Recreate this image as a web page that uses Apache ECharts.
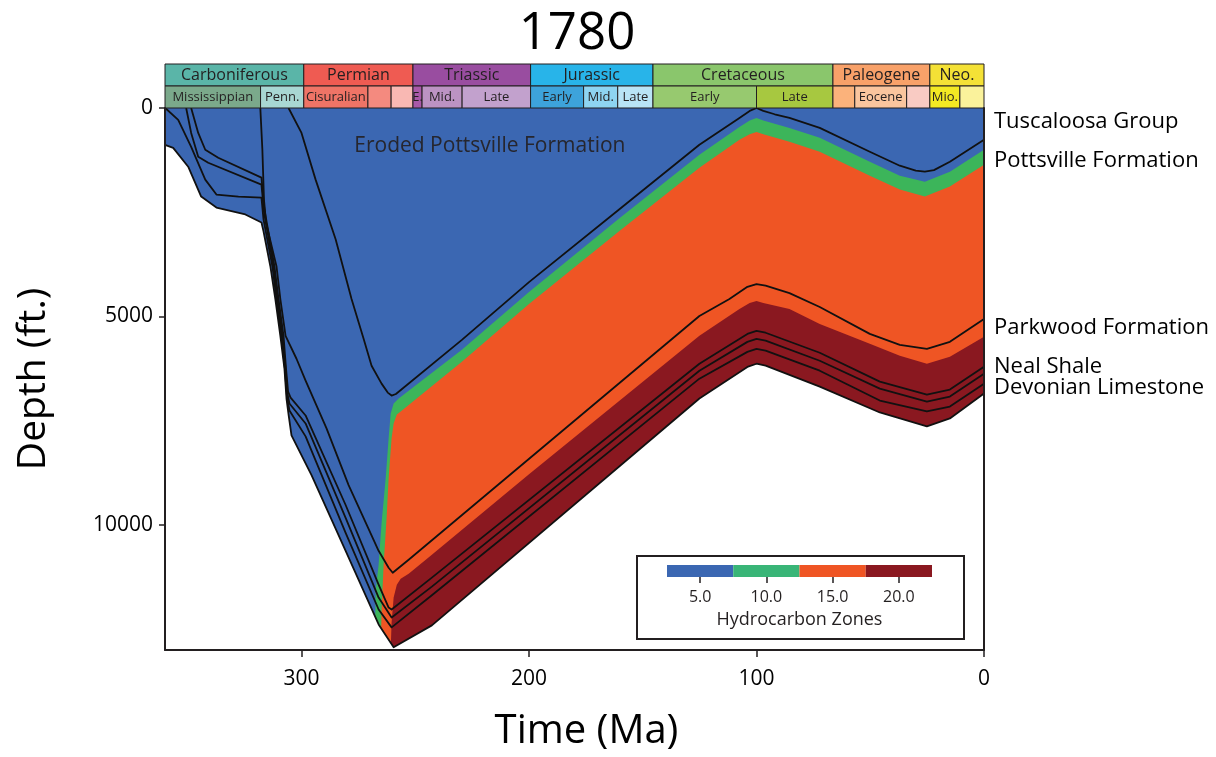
<!DOCTYPE html>
<html><head><meta charset="utf-8">
<script src="https://cdn.jsdelivr.net/npm/echarts@6/dist/echarts.min.js"></script>
<style>html,body{margin:0;padding:0;background:#fff}#c{width:1216px;height:757px}</style>
</head><body><div id="c"></div>
<script>
// ---------- data (time in Ma, depth in ft) ----------
const chartTitle = '1780';
const xTickValues = [0, 100, 200, 300];
const yTickValues = [0, 5000, 10000];

// burial curves of horizons
const tuscaloosaBase = [[305.7,0],[300,597],[293.8,1718],[285,3150],[278,4582],[272.7,5537],[269.2,6181],[264.8,6611],[262.1,6826],[260.4,6897],[258.5,6860],[229.5,5561],[200,4177],[160.4,2434],[125.1,883],[107.5,239],[103,70],[100,0],[97,70],[92,150],[85.5,239],[72.2,477],[50.2,1050],[37,1384],[30,1500],[26,1527],[22,1490],[15,1289],[0,764]];
const pottsvilleBase = [[318.1,0],[317.2,1002],[316.5,2196],[315.6,2745],[311.0,3795],[309.3,4582],[307.0,5465],[302.2,6014],[298.2,6539],[289.0,7685],[279.3,9045],[266.1,10620],[261.7,11026],[259.9,11146],[252.9,10835],[125.1,4988],[111.9,4582],[104,4290],[100,4224],[96,4260],[85.5,4439],[72.2,4773],[50.2,5418],[37,5680],[25.1,5776],[15,5608],[0,5060]];
const parkwoodBase = [[348.5,0],[345.4,597],[342.3,1002],[336.6,1193],[317.6,1671],[316.3,2434],[311.9,3795],[310.1,4582],[307.9,5465],[306.8,6253],[305.9,6802],[304.8,6945],[298.2,7375],[280.6,9522],[266.1,11432],[261.7,11981],[260.4,12029],[242.7,11265],[125.1,6134],[104,5420],[100,5346],[96,5390],[72.2,5871],[45.8,6563],[25.1,6873],[15,6754],[0,6205]];
const nealBase = [[350.7,0],[348.5,597],[345.4,1169],[341.0,1313],[317.6,1838],[316.5,2482],[312.3,3795],[310.6,4582],[308.4,5465],[307.0,6253],[306.2,6850],[305.3,7088],[298.2,7566],[280.6,9833],[266.1,11742],[260.4,12219],[242.7,11480],[125.1,6301],[104,5610],[100,5537],[96,5580],[72.2,6062],[45.8,6730],[25.1,7040],[15,6921],[0,6373]];
const devonianTop = [[359.9,0],[354.2,286],[348.5,931],[342.3,1718],[337.4,2076],[327.7,2124],[317.6,2148],[316.7,2673],[312.8,3795],[311.0,4582],[308.8,5465],[307.3,6253],[306.4,6921],[305.3,7255],[298.2,7876],[280.6,10190],[266.1,12029],[260.4,12458],[242.7,11685],[125.1,6492],[104,5850],[100,5776],[96,5820],[72.2,6301],[45.8,7016],[25.1,7279],[15,7160],[0,6611]];
const devonianBase = [[360,883],[356.4,955],[349.8,1408],[344.1,2124],[337.4,2387],[324.7,2554],[317.6,2745],[316.7,2959],[313.7,3795],[311.5,4582],[309.3,5465],[307.5,6253],[306.6,6969],[305.7,7351],[304.4,7852],[295.6,8807],[280.6,10620],[266.1,12386],[259.5,12935],[242.7,12410],[125.1,6969],[104,6210],[100,6134],[96,6180],[72.2,6683],[45.8,7303],[25.1,7637],[15,7446],[0,6850]];

// hydrocarbon zone boundaries (top of each zone)
const zone10Top = [[360,13000],[267.8,13000],[267.4,11575],[266.1,10954],[264.8,9952],[263.0,8878],[261.7,7924],[260.8,7327],[259.5,7088],[257.3,6969],[229.5,5799],[200,4415],[160.4,2649],[125.1,1122],[107.5,453],[103,300],[100,239],[97,300],[85.5,477],[72.2,716],[50.2,1289],[37,1623],[26,1766],[15,1527],[0,1002]];
const zone15Top = [[360,13000],[265.2,13000],[264.8,12052],[263.9,10954],[262.6,9833],[261.7,8878],[260.4,7924],[259.5,7566],[258.1,7351],[256.4,7279],[229.5,6086],[200,4702],[160.4,2959],[125.1,1432],[107.5,764],[103,630],[100,573],[97,630],[85.5,811],[72.2,1050],[50.2,1623],[37,1957],[26,2124],[15,1885],[0,1360]];
const zone20Top = [[360,13000],[260.8,13000],[260.4,12339],[259.5,11742],[258.1,11432],[256.4,11289],[252.9,11169],[242.7,10716],[200,8783],[125.1,5465],[107.5,4821],[103,4680],[100,4630],[97,4680],[85.5,4821],[72.2,5179],[50.2,5656],[37,5943],[25.1,6134],[15,5967],[0,5489]];
const zoneFloor = [[360,13000],[0,13000]];

// formation labels at present day
const formationNames = ['Tuscaloosa Group','Pottsville Formation','Parkwood Formation','Neal Shale','Devonian Limestone'];
const formationDepths = [334, 1265, 5274, 6205, 6706];
const erodedLabel = {name: 'Eroded Pottsville Formation', time: 217.2, depth: 907};

// geologic time scale
const periods = [[360,299,'Carboniferous'],[299,251,'Permian'],[251,199.3,'Triassic'],[199.3,145.5,'Jurassic'],[145.5,66.4,'Cretaceous'],[66.4,23.8,'Paleogene'],[23.8,0,'Neo.']];
const periodColors = ['#5ab5a8','#ef5b52','#994da0','#28b4e9','#8ac66c','#f8a169','#f4e136'];
const epochs = [[360,318,'Mississippian'],[318,299,'Penn.'],[299,270.8,'Cisuralian'],[270.8,260.6,''],[260.6,251,''],[251,247,'E.'],[247,229.4,'Mid.'],[229.4,199.3,'Late'],[199.3,176,'Early'],[176,161,'Mid.'],[161,145.5,'Late'],[145.5,100,'Early'],[100,66.4,'Late'],[66.4,56.8,''],[56.8,34,'Eocene'],[34,23.8,''],[23.8,10.6,'Mio.'],[10.6,0,'']];
const epochColors = ['#7ba98b','#a8d7d3','#ef7466','#f48a7f','#f9b8b3','#a959a8','#bc93c3','#c2a1cd','#3da3db','#8ed4f1','#b9e4f6','#97c96f','#a7c840','#fbb27b','#fac59e','#f9cbc3','#f3e923','#faf29b'];

// legend colour bar
const zoneTicks = [5, 10, 15, 20];
const zoneBins = [[2.5,7.5],[7.5,12.5],[12.5,17.5],[17.5,22.5]];
const zoneColors = ['#3b67b2','#3cb55a','#ef5524','#8a1820'];
const legendColors = ['#3b67b2','#39b577','#ef5524','#8a1820'];

// ---------- chart ----------
const FONT = 'Open Sans';
const INK = '#231f20';
const chart = echarts.init(document.getElementById('c'), null, {renderer: 'canvas'});

function areaSeries(data, color, z, origin) {
  return {type: 'line', xAxisIndex: 0, yAxisIndex: 0, data: data, symbol: 'none', silent: true,
    lineStyle: {width: 0, color: color}, areaStyle: {color: color, opacity: 1, origin: origin || 'start'}, z: z};
}
function horizon(data, z) {
  return {type: 'line', xAxisIndex: 0, yAxisIndex: 0, data: data, symbol: 'none', silent: true,
    lineStyle: {width: 1.8, color: '#111', join: 'round'}, z: z};
}
function rectItem(p1, p2, fill, text, fs) {
  return {type: 'rect', shape: {x: Math.min(p1[0], p2[0]), y: Math.min(p1[1], p2[1]), width: Math.abs(p2[0]-p1[0]), height: Math.abs(p2[1]-p1[1])},
    style: {fill: fill, stroke: INK, lineWidth: 1},
    textContent: {style: {text: text, fill: INK, fontSize: fs, fontFamily: FONT}},
    textConfig: {position: 'inside'}};
}

const gridMain = {left: 165, right: 232, top: 108, bottom: 104};
const timeAxisBase = {type: 'value', min: 0, max: 360, inverse: true};

const option = {
  animation: false,
  backgroundColor: '#fff',
  title: {text: chartTitle, left: 572, top: 4, textAlign: 'center',
    textStyle: {fontSize: 51, fontWeight: 'normal', color: '#000', fontFamily: FONT}},
  grid: [
    gridMain,
    {left: 165, right: 232, top: 64, height: 44},
    {left: 667, width: 265, top: 565, height: 12}
  ],
  xAxis: [
    Object.assign({}, timeAxisBase, {gridIndex: 0, z: 10,
      name: 'Time (Ma)', nameLocation: 'middle', nameGap: 62,
      nameTextStyle: {fontSize: 40, color: '#000', fontFamily: FONT, padding: [0, 0, 0, 24]},
      axisLine: {onZero: false, lineStyle: {color: INK, width: 2}},
      axisTick: {length: 7, customValues: xTickValues, lineStyle: {color: INK, width: 1.5}},
      axisLabel: {customValues: xTickValues, margin: 19, fontSize: 21, color: '#000', fontFamily: FONT},
      splitLine: {show: false}}),
    Object.assign({}, timeAxisBase, {gridIndex: 1, show: false}),
    {type: 'value', gridIndex: 2, min: 2.5, max: 22.5, z: 70,
      name: 'Hydrocarbon Zones', nameLocation: 'middle', nameGap: 34,
      nameTextStyle: {fontSize: 18, color: INK, fontFamily: FONT},
      axisLine: {show: false, onZero: false},
      axisTick: {show: true, customValues: zoneTicks, length: 6, lineStyle: {color: INK, width: 1.5}},
      axisLabel: {show: true, customValues: zoneTicks, margin: 12, fontSize: 16, color: INK, fontFamily: FONT,
        formatter: v => Number(v).toFixed(1)},
      splitLine: {show: false}}
  ],
  yAxis: [
    {type: 'value', gridIndex: 0, min: 0, max: 13000, inverse: true, z: 10,
      name: 'Depth (ft.)', nameLocation: 'middle', nameGap: 112, nameRotate: 90,
      nameTextStyle: {fontSize: 39, color: '#000', fontFamily: FONT},
      axisLine: {show: true, onZero: false, lineStyle: {color: INK, width: 2}},
      axisTick: {show: true, length: 6, customValues: yTickValues, lineStyle: {color: INK, width: 1.5}},
      axisLabel: {customValues: yTickValues, margin: 12, fontSize: 21, color: '#000', fontFamily: FONT,
        formatter: v => String(v)},
      splitLine: {show: false}},
    {type: 'value', gridIndex: 1, min: 0, max: 2, show: false},
    {type: 'value', gridIndex: 2, min: 0, max: 1, show: false},
    {type: 'value', gridIndex: 0, min: 0, max: 13000, inverse: true, position: 'right', z: 10,
      axisLine: {show: true, onZero: false, lineStyle: {color: INK, width: 2}},
      axisTick: {show: false}, axisLabel: {show: false}, splitLine: {show: false}}
  ],
  graphic: [{type: 'rect', left: 636, top: 555, z: 50,
    shape: {width: 327, height: 83}, style: {fill: '#fff', stroke: INK, lineWidth: 2}}],
  series: [
    areaSeries(zoneFloor, zoneColors[3], 1),
    areaSeries(zone20Top, zoneColors[2], 2),
    areaSeries(zone15Top, zoneColors[1], 3),
    areaSeries(zone10Top, zoneColors[0], 4),
    {type: 'line', xAxisIndex: 0, yAxisIndex: 0, data: devonianBase, symbol: 'none', silent: true,
      lineStyle: {width: 1.8, color: '#111', join: 'round'}, areaStyle: {color: '#fff', opacity: 1, origin: 'end'}, z: 5},
    horizon(devonianTop, 6),
    horizon(nealBase, 6),
    horizon(parkwoodBase, 6),
    horizon(pottsvilleBase, 6),
    horizon(tuscaloosaBase, 6),
    {type: 'scatter', xAxisIndex: 0, yAxisIndex: 0, symbolSize: 0, clip: false, silent: true, z: 7,
      itemStyle: {opacity: 1},
      data: formationNames.map((n, i) => ({name: n, value: [0, formationDepths[i]]})),
      label: {show: true, position: 'right', distance: 10, formatter: '{b}', fontSize: 22, color: '#000', fontFamily: FONT}},
    {type: 'scatter', xAxisIndex: 0, yAxisIndex: 0, symbolSize: 0, silent: true, z: 7,
      itemStyle: {opacity: 1},
      data: [{name: erodedLabel.name, value: [erodedLabel.time, erodedLabel.depth]}],
      label: {show: true, position: 'inside', formatter: '{b}', fontSize: 21, color: '#26262e', fontFamily: FONT}},
    {type: 'custom', xAxisIndex: 1, yAxisIndex: 1, silent: true, z: 8,
      data: periods.map(p => [p[0], p[1]]),
      renderItem: (params, api) => rectItem(api.coord([api.value(0), 2]), api.coord([api.value(1), 1]),
        periodColors[params.dataIndex], periods[params.dataIndex][2], 16)},
    {type: 'custom', xAxisIndex: 1, yAxisIndex: 1, silent: true, z: 8,
      data: epochs.map(p => [p[0], p[1]]),
      renderItem: (params, api) => rectItem(api.coord([api.value(0), 1]), api.coord([api.value(1), 0]),
        epochColors[params.dataIndex], epochs[params.dataIndex][2], 13)},
    {type: 'custom', xAxisIndex: 2, yAxisIndex: 2, silent: true, z: 60,
      data: zoneBins,
      renderItem: (params, api) => {
        const p1 = api.coord([api.value(0), 1]), p2 = api.coord([api.value(1), 0]);
        return {type: 'rect', shape: {x: p1[0], y: p1[1], width: p2[0]-p1[0], height: p2[1]-p1[1]},
          style: {fill: legendColors[params.dataIndex]}};
      }}
  ]
};
chart.setOption(option);
</script>
</body></html>
